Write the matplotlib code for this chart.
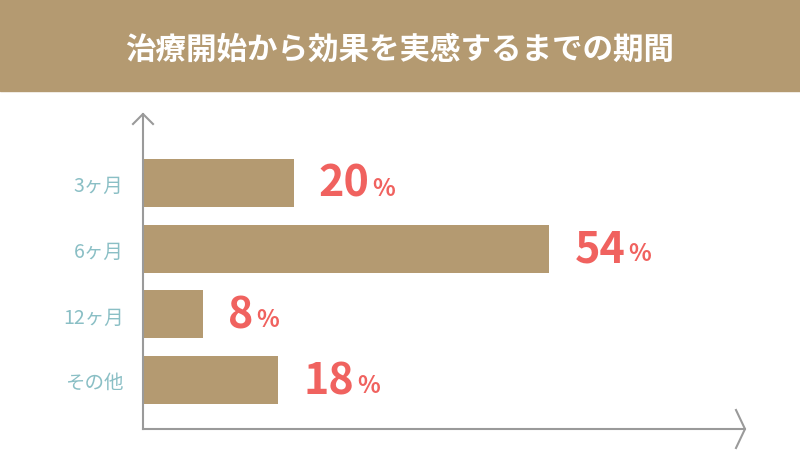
import matplotlib
matplotlib.use("Agg")
import matplotlib.pyplot as plt
from matplotlib.patches import Rectangle

plt.rcParams['font.family'] = ['Noto Sans CJK JP', 'DejaVu Sans']

title = "治療開始から効果を実感するまでの期間"
categories = ["3ヶ月", "6ヶ月", "12ヶ月", "その他"]
values = [20, 54, 8, 18]

bar_color = "#B49A71"
red = "#F0625F"
teal = "#8ABFC5"
axis_c = "#9A9A9A"

fig = plt.figure(figsize=(8, 4.6), dpi=100)
fig.patches.append(Rectangle((0, 1 - 92/460), 1, 92/460, transform=fig.transFigure,
                             color=bar_color, zorder=0))
fig.text(0.5, 1 - 50/460, title, color="white", fontsize=22, fontweight="bold",
         ha="center", va="center")

ax = fig.add_axes([143/800, 1 - 430/460, (745-143)/800, (430-115)/460])
ys = list(range(len(categories)))
ax.barh(ys, values, height=0.73, color=bar_color)
ax.set_xlim(0, 80)
ax.set_ylim(3.744, -1.05)
for s in ax.spines.values():
    s.set_visible(False)
ax.set_xticks([])
ax.set_yticks(ys)
ax.set_yticklabels(categories, color=teal, fontsize=14)
ax.tick_params(axis='y', length=0, pad=14)

# axes lines with arrows
ax.plot([0, 0], [0, 1], transform=ax.transAxes, color=axis_c, lw=1.5, clip_on=False)
ax.plot([0, 1], [0, 0], transform=ax.transAxes, color=axis_c, lw=1.5, clip_on=False)
dx, dy = 10/602, 10/315
ax.plot([-dx, 0, dx], [1 - dy, 1, 1 - dy], transform=ax.transAxes, color=axis_c, lw=1.5, clip_on=False)
ax.plot([1 - dx*0.9, 1, 1 - dx*0.9], [dy*1.9, 0, -dy*1.9], transform=ax.transAxes, color=axis_c, lw=1.5, clip_on=False)

for y, v in zip(ys, values):
    t = ax.annotate(str(v), (v, y), xytext=(18, 0), textcoords="offset points",
                    color=red, fontsize=31, fontweight="bold", va="center", ha="left")
    ax.annotate("%", xy=(1, 0.12), xycoords=t, xytext=(2, 0), textcoords="offset points",
                color=red, fontsize=17, fontweight="bold", va="bottom", ha="left")

fig.savefig("out.png", dpi=100)
